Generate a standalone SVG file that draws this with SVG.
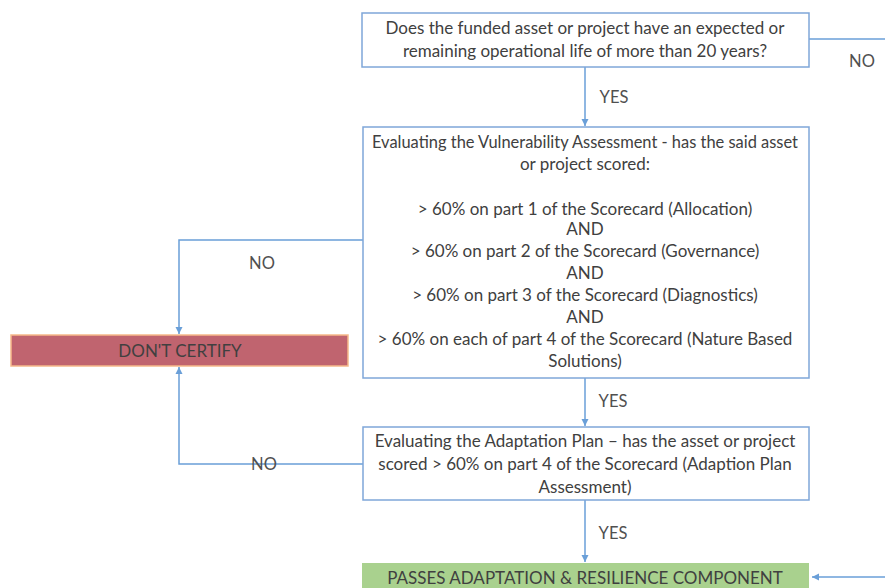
<svg xmlns="http://www.w3.org/2000/svg" width="885" height="588" viewBox="0 0 885 588">
<style>
  .box { fill: #ffffff; stroke: #7fa7d9; stroke-width: 1.5; }
  .t { font-family: Lato, "Open Sans", "Liberation Sans", sans-serif; font-size: 17px; fill: #404040; text-anchor: middle; }
  .lbl { font-family: Lato, "Open Sans", "Liberation Sans", sans-serif; font-size: 16.5px; fill: #505050; text-anchor: middle; }
  .c { fill: none; stroke: #6a9fd8; stroke-width: 1.5; }
</style>
<defs>
  <marker id="ah" markerWidth="8" markerHeight="8" refX="7" refY="4" orient="auto" markerUnits="userSpaceOnUse">
    <path d="M0,0.5 L7,4 L0,7.5 Z" fill="#6a9fd8"/>
  </marker>
</defs>
<rect width="885" height="588" fill="#ffffff"/>
<g id="connectors">
  <path class="c" d="M809,39 H885"/>
  <path class="c" d="M585,67 V126" marker-end="url(#ah)"/>
  <path class="c" d="M363,240 H179 V334" marker-end="url(#ah)"/>
  <path class="c" d="M585,378 V426" marker-end="url(#ah)"/>
  <path class="c" d="M363,464 H179 V367" marker-end="url(#ah)"/>
  <path class="c" d="M585,500 V562" marker-end="url(#ah)"/>
  <path class="c" d="M885,577 H812" marker-end="url(#ah)"/>
  <text class="lbl" x="862" y="67">NO</text>
  <text class="lbl" x="614" y="103">YES</text>
  <text class="lbl" x="262" y="269">NO</text>
  <text class="lbl" x="613" y="407">YES</text>
  <text class="lbl" x="264" y="470">NO</text>
  <text class="lbl" x="613" y="539">YES</text>
</g>
<g id="q1">
  <rect class="box" x="362" y="13" width="447" height="54"/>
  <text class="t" x="585" y="34">Does the funded asset or project have an expected or</text>
  <text class="t" x="585" y="57">remaining operational life of more than 20 years?</text>
</g>
<g id="q2">
  <rect class="box" x="363" y="127" width="446" height="251"/>
  <text class="t" x="585" y="148" textLength="426" lengthAdjust="spacingAndGlyphs">Evaluating the Vulnerability Assessment -  has the said asset</text>
  <text class="t" x="585" y="170">or project scored:</text>
  <text class="t" x="585" y="215">&gt; 60% on part 1  of the Scorecard (Allocation)</text>
  <text class="t" x="585" y="235">AND</text>
  <text class="t" x="585" y="257">&gt; 60% on part 2 of the Scorecard (Governance)</text>
  <text class="t" x="585" y="279">AND</text>
  <text class="t" x="585" y="301">&gt; 60% on part 3 of the Scorecard (Diagnostics)</text>
  <text class="t" x="585" y="323">AND</text>
  <text class="t" x="585" y="345">&gt; 60% on each of part 4 of the Scorecard (Nature Based</text>
  <text class="t" x="585" y="367">Solutions)</text>
</g>
<g id="dontcertify">
  <rect x="11" y="335" width="337" height="31" fill="#c0646f" stroke="#f6b98a" stroke-width="1.5"/>
  <text class="t" x="180" y="357">DON'T CERTIFY</text>
</g>
<g id="q3">
  <rect class="box" x="363" y="427" width="446" height="73"/>
  <text class="t" x="585" y="447">Evaluating the Adaptation Plan – has the asset or project</text>
  <text class="t" x="585" y="470">scored &gt; 60% on part 4 of the Scorecard (Adaption Plan</text>
  <text class="t" x="585" y="493">Assessment)</text>
</g>
<g id="passes">
  <rect x="362" y="563" width="447" height="30" fill="#a9d18e"/>
  <text class="t" x="585" y="584">PASSES ADAPTATION &amp; RESILIENCE COMPONENT</text>
</g>
</svg>
